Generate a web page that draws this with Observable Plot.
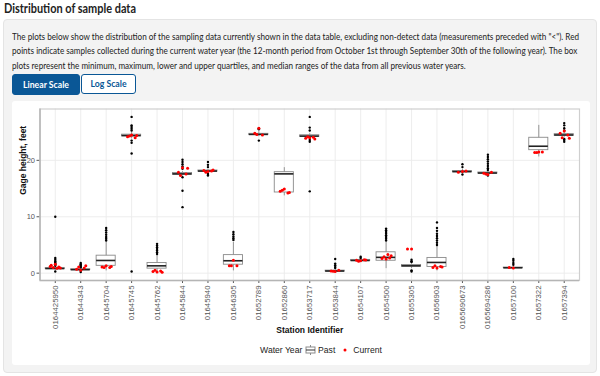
<!DOCTYPE html>
<html>
<head>
<meta charset="utf-8">
<script src="https://cdn.jsdelivr.net/npm/d3@7"></script>
<script src="https://cdn.jsdelivr.net/npm/@observablehq/plot@0.6"></script>
<style>
  html, body { margin: 0; padding: 0; background: #fff; width: 600px; height: 376px; overflow: hidden; }
  body { position: relative; font-family: Lato, "Noto Sans", sans-serif; color: #222; }
  #title { position: absolute; left: 4px; top: 0px; font-size: 13px; font-weight: 700; line-height: 17px; white-space: nowrap; transform-origin: 0 0; }
  #outer { position: absolute; left: 3px; top: 19px; width: 592px; height: 352px; background: #f3f3f3; border: 1px solid #e4e4e4; border-radius: 4px; }
  #para { position: absolute; left: 12px; top: 30px; font-size: 9px; line-height: 14.3px; color: #222; }
  #para div { white-space: nowrap; transform-origin: 0 0; width: max-content; }
  .btn { position: absolute; top: 74px; height: 19px; line-height: 19px; font-size: 8.7px; font-weight: 700; text-align: center; border-radius: 3px; box-sizing: content-box; }
  #lin { left: 12px; width: 66px; background: #0a5796; color: #fff; border: 1px solid #0a5796; }
  #log { left: 81px; width: 53px; background: #fff; color: #0a5796; border: 1.5px solid #0a5796; height: 18px; line-height: 18px; }
  #inner { position: absolute; left: 12px; top: 101px; width: 578px; height: 264px; background: #fff; border-radius: 3px; }
  #chart { position: absolute; left: 0; top: 0; }
  #legend { position: absolute; left: 0; width: 618px; top: 243px; text-align: center; font-family: "Liberation Sans", Arial, sans-serif; font-size: 8.6px; color: #222; white-space: nowrap; }
  #legend span, #legend svg { vertical-align: middle; }
</style>
</head>
<body>
<div id="title">Distribution of sample data</div>
<div id="outer"></div>
<div id="para">
  <div id="l1">The plots below show the distribution of the sampling data currently shown in the data table, excluding non-detect data (measurements preceded with "&lt;"). Red</div>
  <div id="l2">points indicate samples collected during the current water year (the 12-month period from October 1st through September 30th of the following year). The box</div>
  <div id="l3">plots represent the minimum, maximum, lower and upper quartiles, and median ranges of the data from all previous water years.</div>
</div>
<div class="btn" id="lin">Linear Scale</div>
<div class="btn" id="log">Log Scale</div>
<div id="inner">
  <div id="chart"></div>
  <div id="legend"><span>Water Year</span>
    <svg width="11" height="10" viewBox="0 0 11 10"><line x1="5.5" y1="0" x2="5.5" y2="10" stroke="#8a8a8a"/><rect x="1" y="2" width="9" height="6" fill="#fff" stroke="#8a8a8a"/><line x1="1" y1="5" x2="10" y2="5" stroke="#333"/></svg>
    <span>Past</span>&nbsp;&nbsp;
    <svg width="6" height="6"><circle cx="3" cy="3" r="1.5" fill="red"/></svg>&nbsp;
    <span>Current</span></div>
</div>
<script>
const stations = ["0164425950","01644343","01645704","01645745","01645762","01645844","01645940","01646305","01652789","01652860","01653717","01653844","01654107","01654500","01655305","01656903","0165690673","0165694286","01657100","01657322","01657394"];
const q1Vals  = [0.75, 0.55, 1.3, 24.25, 0.8, 17.45, 18.0, 1.5, 24.5, 14.3, 24.15, 0.3, 2.15, 2.2, 1.15, 1.1, 17.9, 17.65, 0.9, 21.8, 24.35];
const medVals = [0.82, 0.62, 2.25, 24.4, 1.3, 17.6, 18.1, 2.2, 24.6, 17.6, 24.3, 0.38, 2.25, 2.8, 1.3, 1.9, 18.0, 17.75, 0.95, 22.5, 24.5];
const q3Vals  = [0.9, 0.7, 3.1, 24.55, 1.8, 17.75, 18.2, 3.2, 24.7, 17.9, 24.45, 0.45, 2.35, 3.7, 1.45, 2.7, 18.1, 17.85, 1.0, 24.0, 24.65];
const loVals  = [0.55, 0.4, 0.4, 23.8, 0.1, 17.2, 17.8, 0.4, 24.2, 13.7, 23.9, 0.2, 2.0, 0.8, 0.8, 0.4, 17.7, 17.5, 0.8, 20.6, 24.1];
const hiVals  = [1.1, 0.9, 5.5, 25.0, 3.2, 18.0, 18.4, 5.5, 25.1, 18.7, 24.7, 0.6, 2.5, 5.5, 1.8, 4.8, 18.4, 18.1, 1.15, 26.2, 24.9];
const outlierVals = [
  [10.0, 2.7, 2.4, 2.1, 1.9, 1.7, 1.5, 1.3, 0.3],
  [1.8, 1.6, 1.4, 1.2, 1.05, 0.2],
  [5.8, 6.1, 6.4, 6.8, 7.2, 7.6, 8.0],
  [27.7, 26.2, 25.9, 25.6, 25.3, 23.5, 23.1, 21.2, 0.3],
  [3.4, 3.7, 4.0, 4.3, 4.6, 4.9, 5.2],
  [20.1, 19.7, 19.3, 18.9, 18.5, 17.0, 14.6, 11.7],
  [19.7, 19.2, 18.8, 17.6, 17.3],
  [5.9, 6.2, 6.5, 6.9, 7.3],
  [25.7, 25.5, 23.5],
  [],
  [27.7, 25.8, 25.3, 23.6, 23.3, 14.5],
  [2.5, 1.7, 1.4, 1.1, 0.9],
  [2.9, 2.7],
  [5.8, 6.1, 6.4, 6.7, 7.0, 7.3, 7.6, 7.9],
  [2.4, 2.1, 2.0, 0.5, 0.3],
  [5.0, 5.4, 5.8, 6.2, 6.6, 7.0, 7.5, 8.0, 9.0],
  [19.3, 18.8, 17.5],
  [21.0, 20.6, 20.2, 19.8, 19.4, 19.0, 18.6, 18.3, 17.3],
  [2.5, 2.2, 1.8, 1.5],
  [],
  [26.6, 26.2, 25.7, 25.3, 23.8, 23.6, 23.3]
];
const currentVals = [
  [1.6, 1.4, 1.1, 1.0, 0.9, 0.85, 1.2],
  [0.5, 0.7, 0.9, 1.1, 1.3],
  [1.3, 1.1, 1.0, 1.0, 1.2],
  [24.5, 24.2, 24.0, 24.3, 24.4],
  [0.2, 0.3, 0.4, 0.5, 0.15],
  [18.7, 17.9, 17.6, 17.3, 18.6],
  [18.0, 18.2, 18.1, 17.9, 18.3],
  [2.3, 1.3, 1.3, 1.3],
  [25.7, 24.8, 24.5, 24.6],
  [14.9, 14.5, 14.2, 14.7, 14.3],
  [24.0, 23.9, 24.1, 24.2, 23.8],
  [0.3, 0.4, 0.5, 0.35],
  [2.2, 2.3, 2.4, 2.1, 2.35],
  [2.5, 2.6, 2.7, 2.9, 3.1, 3.3],
  [4.3, 4.3],
  [0.9, 1.0, 1.2, 1.3, 1.1],
  [18.0, 17.9, 18.1],
  [17.5, 17.7, 17.9, 17.6],
  [0.9, 1.0],
  [21.5, 21.4, 21.5, 21.4],
  [25.2, 24.8, 24.5, 24.0, 23.9]
];
const yTicks = [0, 10, 20];

// fit header text widths to the reference layout (condensed web font substitute)
function fitX(id, target) {
  const el = document.getElementById(id);
  const w = el.getBoundingClientRect().width;
  return w > 0 ? target / w : 1;
}
document.getElementById("title").style.transform = `scaleX(${fitX("title", 132)})`;
const pScale = fitX("l1", 567);
["l1", "l2", "l3"].forEach(id => document.getElementById(id).style.transform = `scaleX(${pScale})`);

// jitter offsets (layout only, in category units)
const jitter = [0.0, -0.16, 0.14, -0.08, 0.2, 0.07, -0.2];
const idx = stations.map((s, i) => i);
const boxes = stations.map((s, i) => ({i, q1: q1Vals[i], med: medVals[i], q3: q3Vals[i], lo: loVals[i], hi: hiVals[i]}));
const outPts = outlierVals.flatMap((arr, i) => arr.map(v => ({i, v})));
const curPts = currentVals.flatMap((arr, i) => arr.map((v, k) => ({x: i + jitter[k % jitter.length], v})));
const hw = 0.375;

const chart = Plot.plot({
  width: 578,
  height: 238,
  marginLeft: 27.5,
  marginRight: 11,
  marginTop: 7.5,
  marginBottom: 59,
  style: {fontFamily: "Liberation Sans, Arial, sans-serif", background: "transparent"},
  x: {type: "linear", domain: [-0.6, 20.6]},
  y: {type: "linear", domain: [-1.3, 29.1]},
  marks: [
    Plot.gridX(idx, {stroke: "#ebebeb", strokeOpacity: 1, strokeWidth: 0.9}),
    Plot.gridY(yTicks, {stroke: "#ebebeb", strokeOpacity: 1, strokeWidth: 0.9}),
    Plot.frame({stroke: "#cfcfcf", strokeWidth: 1.2}),
    Plot.ruleX(boxes, {x: "i", y1: "lo", y2: "hi", stroke: "#8a8a8a", strokeWidth: 0.9}),
    Plot.rect(boxes, {x1: d => d.i - hw, x2: d => d.i + hw, y1: "q1", y2: "q3", fill: "white", stroke: "#8a8a8a", strokeWidth: 0.9}),
    Plot.ruleY(boxes, {y: "med", x1: d => d.i - hw, x2: d => d.i + hw, stroke: "#222", strokeWidth: 1.6}),
    Plot.dot(outPts, {x: "i", y: "v", r: 1.2, fill: "black", stroke: "none"}),
    Plot.dot(curPts, {x: "x", y: "v", r: 1.5, fill: "red", stroke: "none"}),
    Plot.axisY({ticks: yTicks, tickSize: 3, tickPadding: 2, fontSize: 7.5, color: "#555", label: null}),
    Plot.axisX({ticks: idx, tickFormat: i => stations[i], tickRotate: -90, tickSize: 3, tickPadding: 2, fontSize: 7.8, color: "#555", label: null}),
    Plot.ruleX([-0.6], {stroke: "#b5b5b5", strokeWidth: 1.5}),
    Plot.ruleY([-1.3], {stroke: "#b5b5b5", strokeWidth: 1.5}),
    Plot.text(["Gage height, feet"], {frameAnchor: "left", rotate: -90, dx: -16.5, fontSize: 8.5, fontWeight: "bold", fill: "#111"}),
    Plot.text(["Station Identifier"], {frameAnchor: "bottom", dy: 52, fontSize: 8.5, fontWeight: "bold", fill: "#111"})
  ]
});
document.getElementById("chart").appendChild(chart);
</script>
</body>
</html>
